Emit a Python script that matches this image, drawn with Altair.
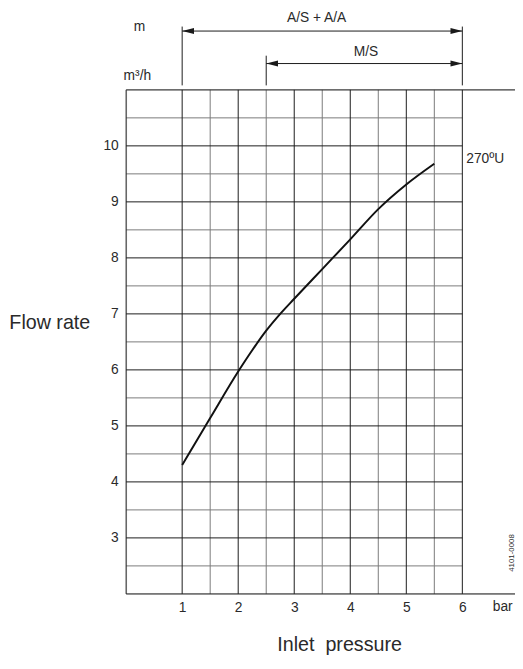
import altair as alt
import pandas as pd
import numpy as np

# ---- data ----
pressure = [1.0, 1.5, 2.0, 2.25, 2.5, 2.75, 3.0, 3.5, 4.0, 4.5, 5.0, 5.5]
flow = [4.30, 5.14, 5.97, 6.35, 6.70, 7.00, 7.27, 7.80, 8.33, 8.87, 9.31, 9.68]
x_ticks = [1, 2, 3, 4, 5, 6]
y_ticks = [3, 4, 5, 6, 7, 8, 9, 10]
curve_label = "270ºU"
range_labels = ["A/S + A/A", "M/S"]
range_start = [1.0, 2.5]
range_end = [6.0, 6.0]

# ---- styling ----
X_DOM = [0, 6.94]
Y_DOM = [2, 11]
INK = "#1a1a1a"
GREY = "#7a7a7a"
TXT = "#2a2a2a"
FONT = "Liberation Sans"

xs = alt.Scale(domain=X_DOM, nice=False, zero=False)
ys = alt.Scale(domain=Y_DOM, nice=False, zero=False)
AX_X = alt.Axis(values=x_ticks, ticks=False, tickSize=0, domain=False, grid=False,
                labelFontSize=14, labelFont=FONT, labelColor=TXT, labelPadding=7, title=None)
AX_Y = alt.Axis(values=y_ticks, ticks=False, tickSize=0, domain=False, grid=False,
                labelFontSize=14, labelFont=FONT, labelColor=TXT, labelPadding=8, title=None)

def xq(f="x"):
    return alt.X(f"{f}:Q", scale=xs, axis=AX_X, title=None)

def yq(f="y"):
    return alt.Y(f"{f}:Q", scale=ys, axis=AX_Y, title=None)

# grid
vmaj = pd.DataFrame({"x": x_ticks, "y": Y_DOM[0], "y2": Y_DOM[1]})
vmin = pd.DataFrame({"x": list(np.arange(1.5, 6.0, 1.0)), "y": Y_DOM[0], "y2": Y_DOM[1]})
hmaj = pd.DataFrame({"y": y_ticks, "x": 0, "x2": 6})
hmin = pd.DataFrame({"y": list(np.arange(2.5, 11.0, 1.0)), "x": 0, "x2": 6})

def vrules(df, color):
    return alt.Chart(df).mark_rule(color=color, strokeWidth=1, clip=False).encode(
        x=xq("x"), y=yq("y"), y2="y2:Q")

def hrules(df, color):
    return alt.Chart(df).mark_rule(color=color, strokeWidth=1, clip=False).encode(
        y=yq("y"), x=xq("x"), x2="x2:Q")

frame_v = vrules(pd.DataFrame({"x": [0], "y": [Y_DOM[0]], "y2": [Y_DOM[1]]}), INK)
frame_h = hrules(pd.DataFrame({"y": Y_DOM, "x": [0, 0], "x2": [X_DOM[1], X_DOM[1]]}), INK)

curve_df = pd.DataFrame({"x": pressure, "y": flow})
curve = alt.Chart(curve_df).mark_line(color="#111111", strokeWidth=2, interpolate="monotone").encode(
    x=xq("x"), y=yq("y"))

# range arrows above the plot
arrow_y = [12.05, 11.47]
arrows_df = pd.DataFrame({"label": range_labels, "x": range_start, "x2": range_end, "y": arrow_y})
arrow_lines = alt.Chart(arrows_df).mark_rule(color=INK, strokeWidth=1, clip=False).encode(
    x=xq("x"), x2="x2:Q", y=yq("y"))
left_heads = alt.Chart(arrows_df).mark_point(
    shape="M0,0L2,-0.5L2,0.5Z", filled=True, color=INK, opacity=1, size=144, clip=False
).encode(x=xq("x"), y=yq("y"))
right_heads = alt.Chart(arrows_df).mark_point(
    shape="M0,0L-2,-0.5L-2,0.5Z", filled=True, color=INK, opacity=1, size=144, clip=False
).encode(x=xq("x2"), y=yq("y"))
tick_df = pd.DataFrame({"x": [range_start[0], range_end[0], range_start[1]],
                        "y": [11.08, 11.08, 11.08], "y2": [12.13, 12.13, 11.61]})
arrow_ticks = vrules(tick_df, INK)

def label(text, x, y, size=14, align="center", angle=0):
    return alt.Chart(pd.DataFrame({"t": [text], "x": [x], "y": [y]})).mark_text(
        font=FONT, fontSize=size, color=TXT, align=align, baseline="middle", angle=angle, clip=False
    ).encode(x=xq("x"), y=yq("y"), text="t:N")

texts = [
    label(range_labels[0], 3.40, 12.29),
    label(range_labels[1], 4.28, 11.68),
    label("m", 0.24, 12.13),
    label("m³/h", 0.20, 11.24),
    label("Flow rate", -0.64, 6.84, size=20, align="right"),
    label("Inlet\u00a0 pressure", 3.81, 1.08, size=20),
    label("bar", 6.72, 1.76),
    label(curve_label, 6.07, 9.76, align="left"),
    label("4101-0008", 6.88, 2.73, size=8, angle=270),
]

chart = alt.layer(
    vrules(vmin, GREY), hrules(hmin, GREY),
    vrules(vmaj, INK), hrules(hmaj, INK),
    frame_v, frame_h,
    curve,
    arrow_lines, left_heads, right_heads, arrow_ticks,
    *texts,
).properties(
    width=395, height=512,
    padding={"left": 120, "top": 78, "right": 0, "bottom": 63},
    autosize=alt.AutoSizeParams(type="none"),
).configure_view(stroke=None).configure(background="white")

chart.save("out.html", embed_options={"renderer": "svg", "actions": False})
